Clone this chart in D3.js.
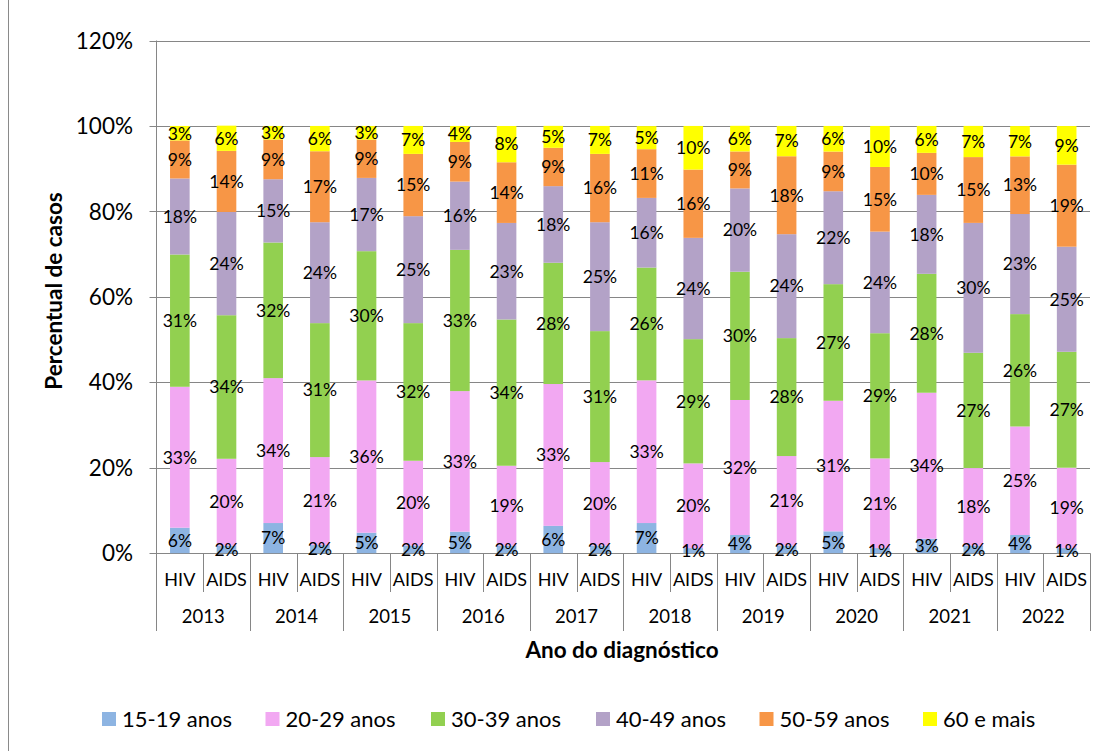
<!DOCTYPE html>
<html><head><meta charset="utf-8">
<script src="https://cdn.jsdelivr.net/npm/d3@7"></script>
<style>
html,body{margin:0;padding:0;background:#fff;}
svg text{font-family:Lato,"Open Sans",sans-serif;fill:#000;}
</style></head>
<body>
<svg id="chart" width="1108" height="751"></svg>
<script>
const years = ["2013","2014","2015","2016","2017","2018","2019","2020","2021","2022"];
const types = ["HIV","AIDS"];
const ageGroups = ["15-19 anos","20-29 anos","30-39 anos","40-49 anos","50-59 anos","60 e mais"];
const colors = ["#8DB4E2","#F2A8F2","#92D050","#B3A2C7","#F79646","#FFFF00"];
const yTicks = [0,20,40,60,80,100,120];
// values in %, ordered HIV, AIDS for each year
const a1519 = [5.97,1.8, 7.06,1.9, 4.8,1.8, 5.04,1.8, 6.4,1.8, 7.06,1.2, 4.26,1.8, 5.12,1.2, 3.4,1.8, 4.26,1.2];
const a2029 = [32.98,20.3, 33.92,20.6, 35.64,19.84, 32.9,18.67, 33.2,19.53, 33.4,19.82, 31.6,20.94, 30.56,20.99, 34.16,18.13, 25.4,18.81];
const a3039 = [30.96,33.6, 31.74,31.35, 30.25,32.21, 33.06,34.23, 28.38,30.65, 26.4,29.08, 30.02,27.6, 27.29,29.3, 27.83,26.98, 26.3,27.13];
const a4049 = [17.8,24.17, 14.81,23.62, 17.15,25.03, 15.98,22.6, 17.93,25.49, 16.3,23.71, 19.5,24.33, 21.75,23.78, 18.48,30.4, 23.43,24.6];
const a5059 = [8.89,14.3, 9.28,16.61, 8.97,14.58, 9.28,14.2, 8.97,15.99, 11.4,15.98, 8.65,18.24, 9.28,15.13, 9.83,15.4, 13.49,19.2];
const a60   = [3.4,5.9, 3.19,5.92, 3.19,6.54, 3.74,8.49, 5.14,6.54, 5.4,10.21, 6.0,7.09, 6.0,9.6, 6.3,7.3, 7.09,9.04];
const series = [a1519,a2029,a3039,a4049,a5059,a60];

const keys = [];
years.forEach(y => types.forEach(t => keys.push(y + "|" + t)));
const rows = keys.map((k,i) => {
  const o = {key:k};
  ageGroups.forEach((g,j) => o[g] = series[j][i]);
  return o;
});

const svg = d3.select("#chart");
const pLeft = 156.5, pRight = 1090, pTop = 40.5, pBottom = 553.2;
const x = d3.scaleBand().domain(keys).range([pLeft, pRight]).padding(0);
const xYear = d3.scaleBand().domain(years).range([pLeft, pRight]).padding(0);
const y = d3.scaleLinear().domain([0,120]).range([pBottom, pTop]);
const step = x.step();
const barW = step * 0.42;
const barOff = (step - barW) / 2;
const grid = "#868686";

// left border of chart area
svg.append("line").attr("x1",8.5).attr("x2",8.5).attr("y1",0).attr("y2",751).attr("stroke","#8a8a8a").attr("stroke-width",1);

// gridlines
svg.append("g").selectAll("line").data(yTicks).join("line")
  .attr("x1", pLeft - 7).attr("x2", pRight)
  .attr("y1", d => Math.round(y(d)) + 0.5).attr("y2", d => Math.round(y(d)) + 0.5)
  .attr("stroke", grid).attr("stroke-width", 1);

// y axis line
svg.append("line").attr("x1",pLeft).attr("x2",pLeft).attr("y1",pTop).attr("y2",631).attr("stroke",grid);
// y tick labels
svg.append("g").selectAll("text").data(yTicks).join("text")
  .attr("x", 133).attr("y", d => y(d)).attr("dy","0.36em")
  .attr("text-anchor","end").style("font-size","22.5px")
  .text(d => d + "%");

// stacked bars
const stack = d3.stack().keys(ageGroups)(rows);
const layers = svg.append("g").selectAll("g").data(stack).join("g")
  .attr("fill", (d,i) => colors[i]);
layers.selectAll("rect").data(d => d).join("rect")
  .attr("x", d => x(d.data.key) + barOff)
  .attr("width", barW)
  .attr("y", d => y(d[1]))
  .attr("height", d => y(d[0]) - y(d[1]));

// data labels
const lbl = svg.append("g");
stack.forEach(layer => {
  layer.forEach(d => {
    const v = d[1] - d[0];
    lbl.append("text")
      .attr("x", x(d.data.key) + step/2)
      .attr("y", (y(d[0]) + y(d[1])) / 2)
      .attr("dy","0.36em")
      .attr("text-anchor","middle")
      .style("font-size","17.5px")
      .text(Math.round(v) + "%");
  });
});

// category axis lines
const xa = svg.append("g");
keys.forEach((k,i) => {
  if (i % 2 === 1) {
    const xx = Math.round(x(k)) + 0.5;
    xa.append("line").attr("x1",xx).attr("x2",xx).attr("y1",pBottom).attr("y2",592).attr("stroke",grid);
  }
});
years.forEach((yr,i) => {
  const xx = Math.round(xYear(yr) + xYear.step()) + 0.5;
  xa.append("line").attr("x1",xx).attr("x2",xx).attr("y1",pBottom).attr("y2",631).attr("stroke",grid);
});
// HIV/AIDS labels
xa.selectAll("text.t").data(keys).join("text").attr("class","t")
  .attr("x", d => x(d) + step/2).attr("y", 585.5)
  .attr("text-anchor","middle").style("font-size","18px")
  .text(d => d.split("|")[1]);
// year labels
xa.selectAll("text.yr").data(years).join("text").attr("class","yr")
  .attr("x", d => xYear(d) + xYear.step()/2).attr("y", 622.5)
  .attr("text-anchor","middle").style("font-size","18.5px")
  .text(d => d);

// axis titles
svg.append("text").attr("x", 622).attr("y", 658).attr("text-anchor","middle")
  .style("font-size","22.5px").style("font-weight","bold").text("Ano do diagnóstico");
svg.append("text").attr("transform","translate(62,291) rotate(-90)").attr("text-anchor","middle")
  .style("font-size","22.5px").style("font-weight","bold").text("Percentual de casos");

// legend
const legX = [102, 265.5, 431, 596, 759.5, 923];
const leg = svg.append("g");
ageGroups.forEach((g,i) => {
  leg.append("rect").attr("x", legX[i]).attr("y", 712).attr("width", 14).attr("height", 14).attr("fill", colors[i]);
  leg.append("text").attr("x", legX[i] + 20).attr("y", 719).attr("dy","0.36em")
    .style("font-size","22px").text(g);
});
</script>
</body></html>
